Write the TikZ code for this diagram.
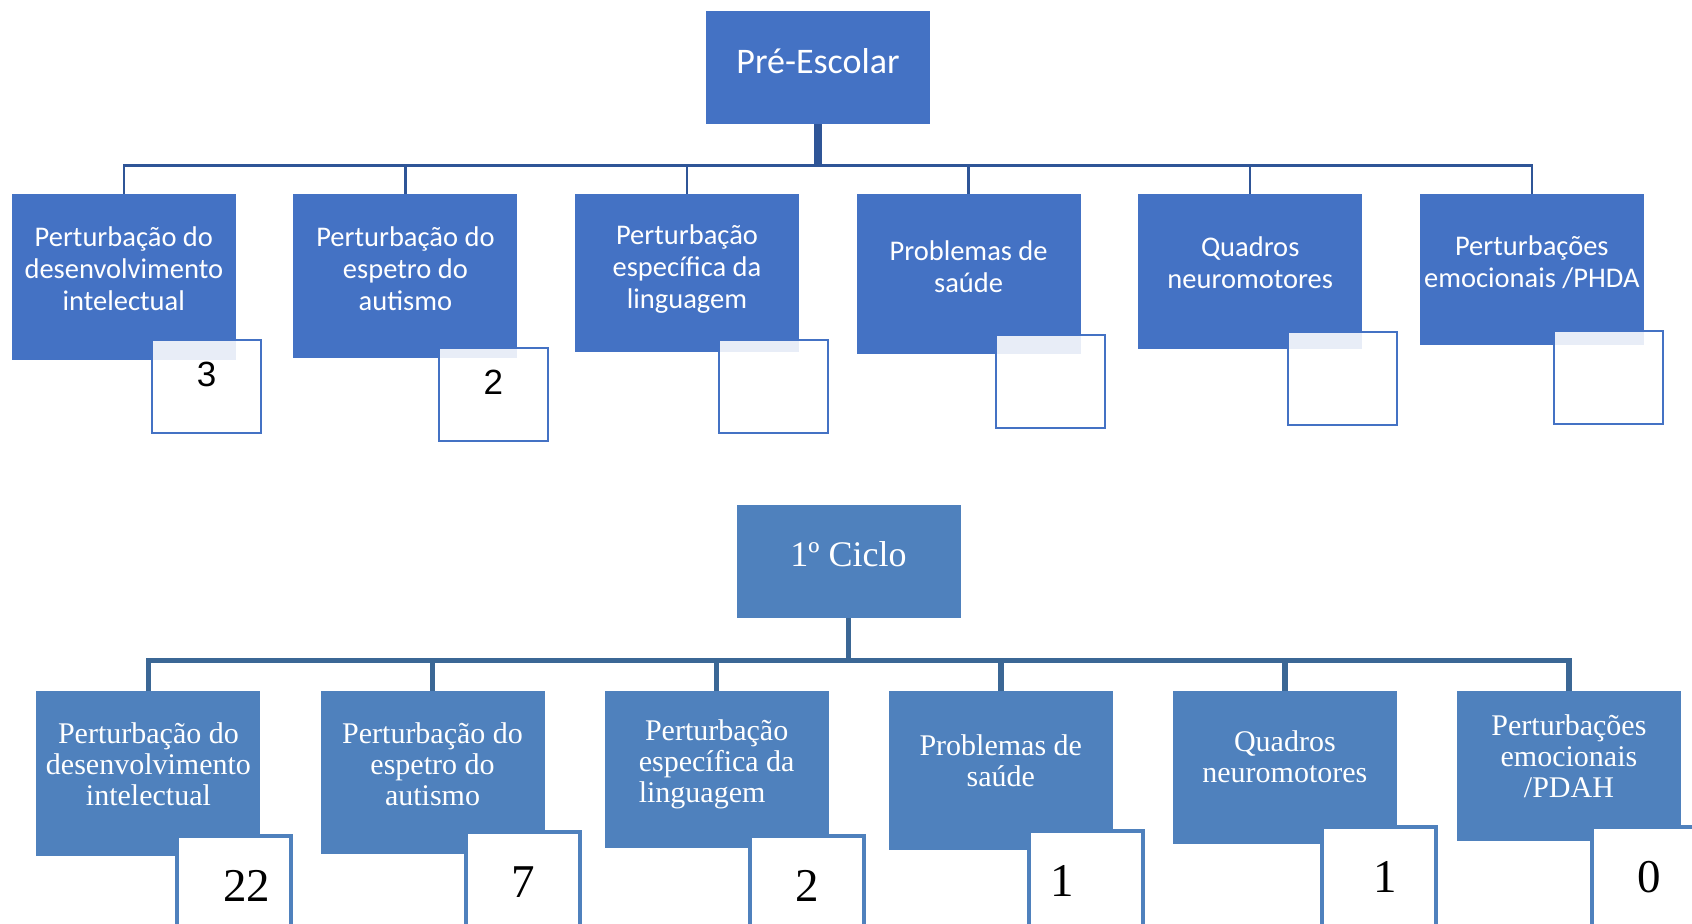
\documentclass[tikz,border=0pt]{standalone}
\usepackage{fontspec}
\usepackage{tikz}
\usetikzlibrary{calc}
\newfontfamily\prefont{Carlito}
\newfontfamily\cicfont{Liberation Serif}
\newfontfamily\numfont{Liberation Sans}
\definecolor{prefill}{HTML}{4472C4}
\definecolor{preline}{HTML}{2F5597}
\definecolor{cicfill}{HTML}{4F81BD}
\definecolor{cicline}{HTML}{3B6795}
\tikzset{
    prebox/.style={fill=prefill, text=white, align=center, minimum width=112pt, inner xsep=2pt, inner ysep=0pt, font=\prefont\fontsize{14.25}{16}\selectfont},
    preroot/.style={prebox, text height=31.5pt, text depth=25pt, font=\prefont\fontsize{18}{22}\selectfont},
    prenum/.style={draw=prefill, line width=1pt, fill=white, fill opacity=0.88, text opacity=1, minimum width=54.5pt, inner sep=0pt, text height=23.25pt, text depth=23.25pt, anchor=north west, font=\numfont\fontsize{17.5}{20}\selectfont},
    cicbox/.style={fill=cicfill, text=white, align=center, minimum width=112pt, inner xsep=2pt, inner ysep=0pt, font=\cicfont\fontsize{15}{15.5}\selectfont},
    cicroot/.style={cicbox, text height=31pt, text depth=25.5pt, font=\cicfont\fontsize{18}{22}\selectfont},
    cicnum/.style={draw=cicfill, line width=2pt, fill=white, minimum width=57pt, inner sep=0pt, text height=33pt, text depth=17pt, anchor=north west, font=\cicfont\fontsize{23.5}{28}\selectfont}
}
\begin{document}
\begin{tikzpicture}[x=0.5pt, y=-0.5pt]
    \path[use as bounding box] (0,0) rectangle (1692,924);
    \clip (0,0) rectangle (1692,924);
    \begin{scope}[level distance=63.25pt, sibling distance=140.8pt,
        every child node/.style={prebox, anchor=north, xshift=4.9pt},
        edge from parent/.style={draw=preline, line width=1.2pt},
        edge from parent path={(\tikzparentnode.south) -- ++(0,41) -| (\tikzchildnode.north)}]
        \node[preroot] (pre) at (818,67.5) {Pré-Escolar}
            child {node[text height=58pt, text depth=25pt] (pre1) {Perturbação do\\desenvolvimento\\intelectual}}
            child {node[text height=58pt, text depth=24pt] (pre2) {Perturbação do\\espetro do\\autismo}}
            child {node[text height=57pt, text depth=22pt] (pre3) {Perturbação\\específica da\\linguagem}}
            child {node[text height=49pt, text depth=31pt] (pre4) {Problemas de\\saúde}}
            child {node[text height=47pt, text depth=30.5pt] (pre5) {Quadros\\neuromotores}}
            child {node[text height=46.5pt, text depth=29pt] (pre6) {Perturbações\\emocionais /PHDA}};
        \draw[draw=preline, line width=4pt] (pre.south) -- ++(0,41);
    \end{scope}
    \node[prenum] (pn1) at ($(pre1.south east)+(-85,-22)$) {3};
    \node[prenum] (pn2) at ($(pre2.south east)+(-80,-12)$) {2};
    \node[prenum] (pn3) at ($(pre3.south east)+(-81,-14)$) {};
    \node[prenum] (pn4) at ($(pre4.south east)+(-86,-21)$) {};
    \node[prenum] (pn5) at ($(pre5.south east)+(-76,-19)$) {};
    \node[prenum] (pn6) at ($(pre6.south east)+(-91,-16)$) {};

    \begin{scope}[level distance=64.75pt, sibling distance=142.05pt,
        every child node/.style={cicbox, anchor=north, xshift=5.1pt},
        edge from parent/.style={draw=cicline, line width=2.8pt},
        edge from parent path={(\tikzparentnode.south) -- ++(0,42) -| (\tikzchildnode.north)}]
        \node[cicroot] (cic) at (848.5,561.5) {1º Ciclo}
            child {node[text height=57pt, text depth=25.5pt] (cic1) {Perturbação do\\desenvolvimento\\intelectual}}
            child {node[text height=57pt, text depth=24.5pt] (cic2) {Perturbação do\\espetro do\\autismo}}
            child {node[text height=55.5pt, text depth=23pt] (cic3) {Perturbação\\específica da\\\rlap{linguagem}\phantom{específica da}}}
            child {node[text height=47.5pt, text depth=32pt] (cic4) {Problemas de\\saúde}}
            child {node[text height=45.5pt, text depth=31pt] (cic5) {Quadros\\neuromotores}}
            child {node[text height=53pt, text depth=22pt] (cic6) {Perturbações\\emocionais\\/PDAH}};
    \end{scope}
    \node[cicnum] (cn1) at ($(cic1.south east)+(-86,-23)$) {\kern13pt 22};
    \node[cicnum] (cn2) at ($(cic2.south east)+(-81,-25)$) {7};
    \node[cicnum] (cn3) at ($(cic3.south east)+(-81,-15)$) {2};
    \node[cicnum] (cn4) at ($(cic4.south east)+(-86,-22)$) {\kern-24pt 1};
    \node[cicnum] (cn5) at ($(cic5.south east)+(-77,-20)$) {\kern6pt 1};
    \node[cicnum] (cn6) at ($(cic6.south east)+(-91,-17)$) {0};
\end{tikzpicture}
\end{document}
